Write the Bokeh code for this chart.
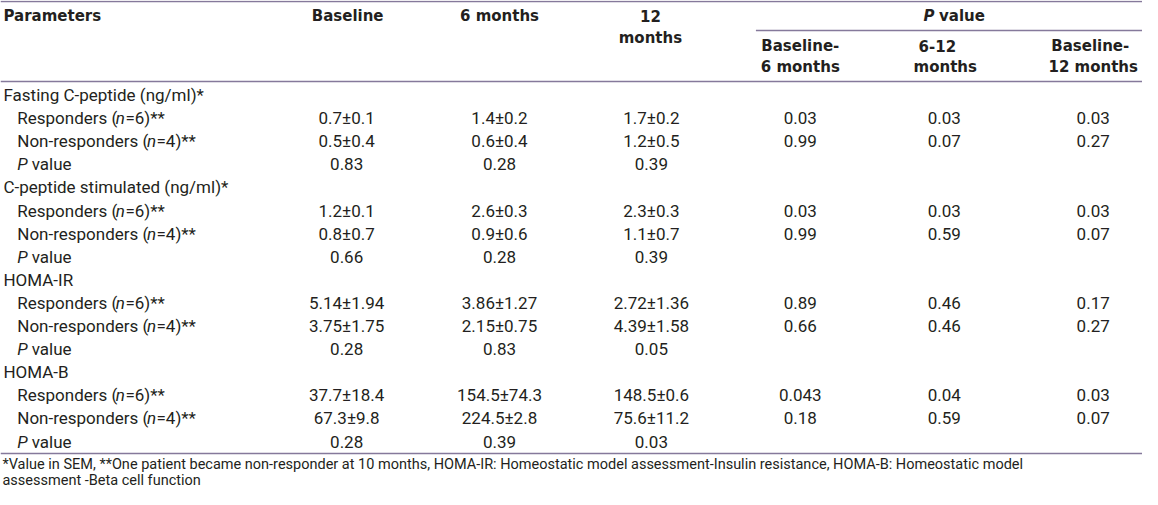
from bokeh.plotting import figure
from bokeh.models import Range1d, ColumnDataSource
from bokeh.embed import file_html
from bokeh.resources import INLINE
from bokeh.core.properties import value

# ---------------- data ----------------
group_labels = ["Fasting C-peptide (ng/ml)*", "C-peptide stimulated (ng/ml)*", "HOMA-IR", "HOMA-B"]
col_headers = ["Baseline", "6 months", "12\nmonths"]
p_sub_headers = ["Baseline-\n6 months", "6-12\nmonths", "Baseline-\n12 months"]

baseline = ["0.7±0.1", "0.5±0.4", "0.83",
            "1.2±0.1", "0.8±0.7", "0.66",
            "5.14±1.94", "3.75±1.75", "0.28",
            "37.7±18.4", "67.3±9.8", "0.28"]
six_months = ["1.4±0.2", "0.6±0.4", "0.28",
              "2.6±0.3", "0.9±0.6", "0.28",
              "3.86±1.27", "2.15±0.75", "0.83",
              "154.5±74.3", "224.5±2.8", "0.39"]
twelve_months = ["1.7±0.2", "1.2±0.5", "0.39",
                 "2.3±0.3", "1.1±0.7", "0.39",
                 "2.72±1.36", "4.39±1.58", "0.05",
                 "148.5±0.6", "75.6±11.2", "0.03"]
p_base_6 = ["0.03", "0.99", "",
            "0.03", "0.99", "",
            "0.89", "0.66", "",
            "0.043", "0.18", ""]
p_6_12 = ["0.03", "0.07", "",
          "0.03", "0.59", "",
          "0.46", "0.46", "",
          "0.04", "0.59", ""]
p_base_12 = ["0.03", "0.27", "",
             "0.03", "0.07", "",
             "0.17", "0.27", "",
             "0.03", "0.07", ""]

footnote = ["*Value in SEM, **One patient became non-responder at  10 months, HOMA-IR: Homeostatic model assessment-Insulin resistance, HOMA-B: Homeostatic model",
            "assessment -Beta cell function"]

# ---------------- layout ----------------
W, H = 1142, 489
KX = 1158 / W
TXT = "#231f20"
RULE = "#85799b"
BODY = value("Roboto")
HEAD = value("DejaVu Sans")
BSZ = 17
BS = f"{BSZ}px"
HS = "15px"

p = figure(width=W, height=H, x_range=Range1d(0, 1158), y_range=Range1d(H, 0),
           output_backend="svg", toolbar_location=None, min_border=0)
p.axis.visible = False
p.grid.visible = False
p.outline_line_color = None
p.background_fill_color = "white"

# rules
p.segment(x0=[0, 766, 0, 0], x1=[1158, 1158, 1158, 1158], y0=[1, 30, 81, 453], y1=[1, 30, 81, 453],
          line_color=RULE, line_width=1.4)

def txt(x, y, s, align="left", font=BODY, size=BS, style="normal"):
    p.text(x=[x], y=[y], text=[s], text_align=align, text_baseline="middle",
           text_font=font, text_font_size=size, text_font_style=style, text_color=TXT)

# header
txt(3, 15, "Parameters", font=HEAD, size=HS, style="bold")
hx = [352, 506, 659]
for x, h in zip(hx, col_headers):
    for k, line in enumerate(h.split("\n")):
        txt(x, 15 + 22 * k, line, align="center", font=HEAD, size=HS, style="bold")
# "P value" header with italic P
pw = 0.684 * 15 * KX
sp = 0.348 * 15 * KX
vw = 2.78 * 15 * KX
x0 = 965 - (pw + sp + vw) / 2
txt(x0, 15, "P", font=HEAD, size=HS, style="bold italic")
txt(x0 + pw + sp, 15, "value", font=HEAD, size=HS, style="bold")
psx = [[811, 811], [950, 958], [1105, 1108]]
for xs, h in zip(psx, p_sub_headers):
    for k, line in enumerate(h.split("\n")):
        txt(xs[k], 45 + 21.5 * k, line, align="center", font=HEAD, size=HS, style="bold")

# rows
def ry(i):
    return 94.5 + 23.1 * i

w = BSZ * KX
for g, lab in enumerate(group_labels):
    r0 = g * 4
    txt(3, ry(r0), lab)
    txt(17, ry(r0 + 1), "Responders (")
    txt(17 + 5.80 * w, ry(r0 + 1), "n", style="italic")
    txt(17 + 6.36 * w, ry(r0 + 1), "=6)**")
    txt(17, ry(r0 + 2), "Non-responders (")
    txt(17 + 7.63 * w, ry(r0 + 2), "n", style="italic")
    txt(17 + 8.19 * w, ry(r0 + 2), "=4)**")
    txt(17, ry(r0 + 3), "P", style="italic")
    txt(17 + 0.85 * w, ry(r0 + 3), "value")

# data columns
cols = [baseline, six_months, twelve_months, p_base_6, p_6_12, p_base_12]
cx = [351, 506, 660, 811, 957, 1108]
xs, ys, ts = [], [], []
for c, vals in zip(cx, cols):
    for j, v in enumerate(vals):
        g, k = divmod(j, 3)
        if v:
            xs.append(c)
            ys.append(ry(g * 4 + 1 + k))
            ts.append(v)
src = ColumnDataSource(dict(x=xs, y=ys, t=ts))
p.text(x="x", y="y", text="t", source=src, text_align="center", text_baseline="middle",
       text_font=BODY, text_font_size=BS, text_color=TXT)

# footnote
txt(2, 464, footnote[0], size="14.5px")
txt(2, 479.5, footnote[1], size="14.5px")

open("out.html", "w").write(file_html(p, INLINE))
